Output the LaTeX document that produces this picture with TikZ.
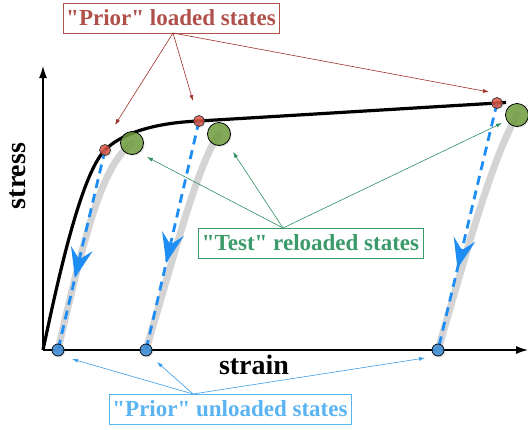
\documentclass[tikz,border=0pt]{standalone}
\usepackage{fontspec}
\setmainfont{Liberation Serif}
\newfontfamily\tnrfont{Liberation Serif}
\usetikzlibrary{arrows.meta,decorations.markings,shadows}
\definecolor{loadc}{HTML}{B0504A}
\definecolor{loadarr}{HTML}{A03028}
\definecolor{testc}{HTML}{3A9A6A}
\definecolor{testarr}{HTML}{2E9060}
\definecolor{unlc}{HTML}{5AB4F2}
\definecolor{unlarr}{HTML}{3A9DE8}
\definecolor{dashblue}{HTML}{1E8EF5}
\definecolor{greenfill}{HTML}{6E9E3A}
\definecolor{redfill}{HTML}{E0503E}
\definecolor{bluefill}{HTML}{3C8ED8}
\definecolor{graypath}{HTML}{D4D4D4}
\begin{document}
\begin{tikzpicture}[x=1pt,y=-1pt,
  lbl/.style={draw, line width=0.9pt, font=\tnrfont\fontsize{23}{23}\selectfont\bfseries, inner sep=0pt, minimum height=30pt},
  ptr/.style={line width=0.6pt, -{Latex[length=6pt,width=4pt]}},
  axislabel/.style={font=\tnrfont\fontsize{28}{28}\selectfont\bfseries},
  axisline/.style={line width=1.2pt, -{Latex[length=12pt,width=8pt]}},
  reload/.style={line width=7pt, draw=graypath, line cap=round},
  unload/.style={draw=dashblue, line width=2.8pt, dash pattern=on 9pt off 6pt,
    postaction={decorate},
    decoration={markings, mark=at position #1 with {\arrow{Stealth[length=30pt,width=22pt,inset=11pt,fill=dashblue]}}}},
  dotshadow/.style={drop shadow={opacity=0.25,shadow xshift=1.2pt,shadow yshift=-1.2pt}},
  greendot/.style={circle, draw=black, line width=0.8pt, fill=greenfill, fill opacity=0.82, minimum size=23pt, inner sep=0pt, dotshadow},
  reddot/.style={circle, draw=black!80, line width=0.7pt, fill=redfill, fill opacity=0.8, minimum size=11pt, inner sep=0pt, dotshadow},
  bluedot/.style={circle, draw=black, line width=0.7pt, fill=bluefill, fill opacity=0.85, minimum size=12pt, inner sep=0pt, dotshadow}
]
\useasboundingbox (0,0) rectangle (528,429);

% axes
\coordinate (o) at (43,350);
\coordinate (ytip) at (43,66);
\coordinate (xtip) at (528,350);
\draw[axisline] (o) -- (ytip);
\draw[axisline] (o) -- (xtip);

% point positions
\coordinate (r1) at (105,150);
\coordinate (r2) at (199,121);
\coordinate (r3) at (497,103);
\coordinate (g1) at (132,143);
\coordinate (g2) at (219,134);
\coordinate (g3) at (517,115);
\coordinate (b1) at (58,350);
\coordinate (b2) at (146,350);
\coordinate (b3) at (438,350);
\coordinate (cend) at (506,102.5);

% reload paths (gray)
\draw[reload] (b1) .. controls (90,210) and (105,165) .. (g1);
\draw[reload] (b2) .. controls (180,235) and (198,165) .. (g2);
\draw[reload] (b3) .. controls (470,240) and (492,160) .. (g3);

% main stress-strain curve
\draw[line width=3.2pt, black] (o) .. controls (56,289) and (80,175) .. (r1)
  .. controls (120,135) and (150,123) .. (r2) -- (cend);

% unloading dashed lines
\draw[unload=0.64] (r1) -- (b1);
\draw[unload=0.62] (r2) -- (b2);
\draw[unload=0.67] (r3) -- (b3);

% dots
\node[greendot] (G1) at (g1) {};
\node[greendot] (G2) at (g2) {};
\node[greendot] (G3) at (g3) {};
\node[reddot] (R1) at (r1) {};
\node[reddot] (R2) at (r2) {};
\node[reddot] (R3) at (r3) {};
\node[bluedot] (B1) at (b1) {};
\node[bluedot] (B2) at (b2) {};
\node[bluedot] (B3) at (b3) {};

% axis labels
\node[axislabel, anchor=base, rotate=90] (sy) at (25.5,176) {stress};
\node[axislabel, anchor=base] (sx) at (254,374) {strain};

% label boxes
\node[lbl, draw=loadc, text=loadc, minimum width=216pt] (lb) at (171,18) {"Prior" loaded states};
\node[lbl, draw=testc, text=testc, minimum width=225pt] (tb) at (310.5,243) {"Test" reloaded states};
\node[lbl, draw=unlc, text=unlc, minimum width=242pt] (ub) at (230,409) {"Prior" unloaded states};

% pointer sources and targets
\coordinate (ls) at (173,33);
\coordinate (ts) at (283,228);
\coordinate (us) at (193,394);
\coordinate (la1) at (115,125);
\coordinate (la2) at (193,101);
\coordinate (la3) at (489,92);
\coordinate (ta1) at (147,157);
\coordinate (ta2) at (233,152);
\coordinate (ta3) at (502,123);
\coordinate (ua1) at (72,359);
\coordinate (ua2) at (157,362);
\coordinate (ua3) at (425,358);

\foreach \t in {la1,la2,la3} \draw[ptr, loadarr] (ls) -- (\t);
\foreach \t in {ta1,ta2,ta3} \draw[ptr, testarr] (ts) -- (\t);
\foreach \t in {ua1,ua2,ua3} \draw[ptr, unlarr] (us) -- (\t);
\end{tikzpicture}
\end{document}
